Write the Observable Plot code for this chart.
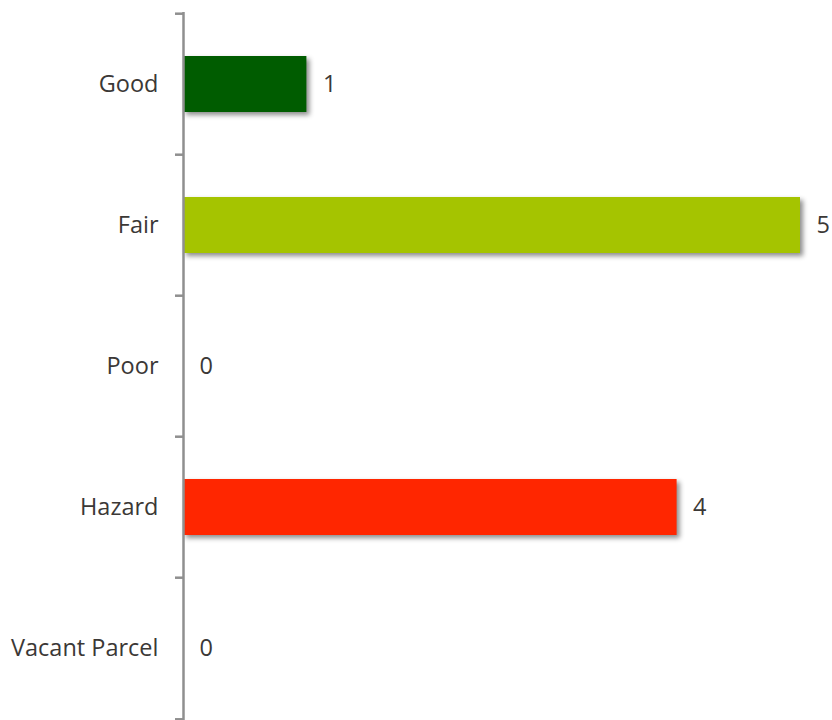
<!DOCTYPE html>
<html><head><meta charset="utf-8">
<script src="https://cdn.jsdelivr.net/npm/d3@7"></script>
<script src="https://cdn.jsdelivr.net/npm/@observablehq/plot@0.6"></script>
<style>
body{margin:0;background:#fff;}
#chart svg{display:block;}
g[aria-label="bar"] rect{filter:drop-shadow(3px 3px 2.5px rgba(0,0,0,0.45));}
</style>
</head><body><div id="chart"></div>
<script>
const categories = ["Good","Fair","Poor","Hazard","Vacant Parcel"];
const counts = [1,5,0,4,0];
const colors = ["#005c00","#a5c400","#cccccc","#ff2600","#cccccc"];
const data = categories.map((c,i)=>({category:c,count:counts[i],color:colors[i]}));

const W=832,H=720,mT=12,mB=0,mL=183,mR=32;
const step=(H-mT-mB)/categories.length;
const font="'Open Sans', sans-serif";
const textColor="#3b3836";
const fs=23.5;

const chart = Plot.plot({
  width:W,height:H,
  marginTop:mT,marginBottom:mB,marginLeft:mL,marginRight:mR,
  style:{fontFamily:font,fontSize:fs+"px",color:textColor,background:"#fff",overflow:"visible"},
  x:{domain:[0,5],axis:null},
  y:{domain:categories,paddingInner:0.6,paddingOuter:0.3,label:null},
  marks:[
    Plot.barX(data,{y:"category",x:"count",fill:"color"}),
    Plot.axisY({tickSize:0,tickPadding:25,fontSize:fs,fill:textColor}),
    Plot.ruleX([0],{stroke:"#8f8f8f",strokeWidth:2.5}),
    Plot.ruleY(categories,{y:d=>d,x1:-8/123.4,x2:0,dy:-step/2,stroke:"#8f8f8f",strokeWidth:2.5,clip:false}),
    Plot.ruleY([categories[categories.length-1]],{y:d=>d,x1:-8/123.4,x2:0,dy:step/2,stroke:"#8f8f8f",strokeWidth:2.5}),
    Plot.text(data,{y:"category",x:"count",text:d=>String(d.count),dx:16,textAnchor:"start",fill:textColor,fontSize:fs})
  ]
});
document.getElementById("chart").append(chart);
</script></body></html>
